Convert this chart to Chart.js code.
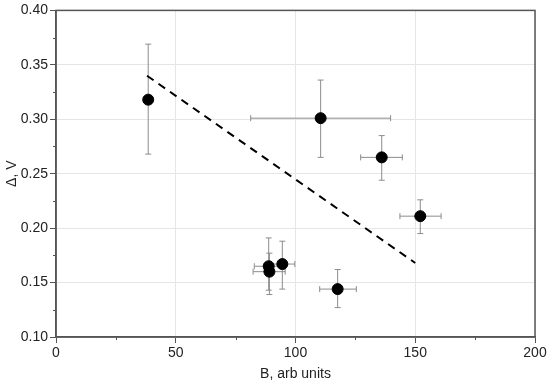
<!DOCTYPE html>
<html>
<head>
<meta charset="utf-8">
<script src="https://cdn.jsdelivr.net/npm/chart.js@4"></script>
<style>
  html, body { margin: 0; padding: 0; background: #fff; }
  #wrap { width: 550px; height: 387px; }
</style>
</head>
<body>
<div id="wrap"><canvas id="chartDelta"></canvas></div>
<script>
// measured points
const bVals   = [38.5, 110.5, 136.0, 152.1, 88.8, 89.1, 94.5, 117.6];
const dVals   = [0.318, 0.301, 0.265, 0.211, 0.165, 0.160, 0.167, 0.144];
// error bar ends
const bLow    = [38.5, 81.3, 127.2, 143.6, 82.8, 82.3, 89.5, 110.1];
const bHigh   = [38.5, 139.7, 144.6, 160.8, 95.0, 95.7, 99.7, 125.4];
const dLow    = [0.268, 0.265, 0.244, 0.195, 0.143, 0.139, 0.144, 0.127];
const dHigh   = [0.369, 0.336, 0.285, 0.226, 0.191, 0.177, 0.188, 0.162];
// linear fit
const fitB    = [38, 150];
const fitD    = [0.340, 0.168];

const xTicks  = [0, 50, 100, 150, 200];
const yTicks  = [0.10, 0.15, 0.20, 0.25, 0.30, 0.35, 0.40];

document.addEventListener("DOMContentLoaded", function () {
    const ctx = document.getElementById("chartDelta").getContext("2d");
    const font = { family: 'Liberation Sans, Arial', size: 14 };

    const errorBars = {
        id: 'errorBars',
        beforeDatasetsDraw(chart) {
            const x = chart.scales.x, y = chart.scales.y, c = chart.ctx;
            c.save();
            c.strokeStyle = '#8c8c8c';
            c.lineWidth = 1;
            const cap = 3;
            for (let i = 0; i < bVals.length; i++) {
                const px = x.getPixelForValue(bVals[i]);
                const py = y.getPixelForValue(dVals[i]);
                const y1 = y.getPixelForValue(dLow[i]), y2 = y.getPixelForValue(dHigh[i]);
                c.beginPath();
                c.moveTo(px, y1); c.lineTo(px, y2);
                c.moveTo(px - cap, y1); c.lineTo(px + cap, y1);
                c.moveTo(px - cap, y2); c.lineTo(px + cap, y2);
                if (bHigh[i] > bLow[i]) {
                    const x1 = x.getPixelForValue(bLow[i]), x2 = x.getPixelForValue(bHigh[i]);
                    c.moveTo(x1, py); c.lineTo(x2, py);
                    c.moveTo(x1, py - cap); c.lineTo(x1, py + cap);
                    c.moveTo(x2, py - cap); c.lineTo(x2, py + cap);
                }
                c.stroke();
            }
            c.restore();
        },
        afterDraw(chart) {
            const a = chart.chartArea, x = chart.scales.x, y = chart.scales.y, c = chart.ctx;
            c.save();
            c.strokeStyle = '#555';
            c.lineWidth = 1.5;
            c.strokeRect(a.left, a.top, a.right - a.left, a.bottom - a.top);
            // minor ticks
            c.lineWidth = 1;
            c.beginPath();
            for (let v = 25; v < 200; v += 50) {
                const px = Math.round(x.getPixelForValue(v)) + 0.5;
                c.moveTo(px, a.bottom); c.lineTo(px, a.bottom + 3);
            }
            for (let v = 0.125; v < 0.4; v += 0.05) {
                const py = Math.round(y.getPixelForValue(v)) + 0.5;
                c.moveTo(a.left, py); c.lineTo(a.left - 3, py);
            }
            c.stroke();
            c.restore();
        }
    };

    new Chart(ctx, {
        type: 'scatter',
        data: {
            datasets: [{
                data: bVals.map((b, i) => ({ x: b, y: dVals[i] })),
                backgroundColor: '#000',
                borderColor: '#000',
                pointRadius: 5.5,
                pointHoverRadius: 5.5
            }, {
                type: 'line',
                data: fitB.map((b, i) => ({ x: b, y: fitD[i] })),
                borderColor: '#000',
                borderWidth: 2,
                borderDash: [8, 6],
                pointRadius: 0,
                fill: false
            }]
        },
        options: {
            responsive: true,
            maintainAspectRatio: false,
            animation: false,
            layout: { padding: { top: 10, right: 15, left: 0, bottom: 0 } },
            plugins: {
                legend: { display: false },
                tooltip: { enabled: false }
            },
            scales: {
                x: {
                    type: 'linear',
                    min: 0, max: 200,
                    afterBuildTicks: s => { s.ticks = xTicks.map(v => ({ value: v })); },
                    afterFit: s => { s.height = 50; },
                    grid: { color: '#e6e6e6', tickColor: '#555', tickLength: 6 },
                    border: { color: '#555', width: 1.5 },
                    ticks: { color: '#222', font: font, padding: 2, maxRotation: 0 },
                    title: { display: true, text: 'B, arb units', color: '#222', font: font, padding: { top: 4, bottom: 4 } }
                },
                y: {
                    min: 0.10, max: 0.40,
                    afterBuildTicks: s => { s.ticks = yTicks.map(v => ({ value: v })); },
                    afterFit: s => { s.width = 56; },
                    grid: { color: '#e6e6e6', tickColor: '#555', tickLength: 6 },
                    border: { color: '#555', width: 1.5 },
                    ticks: { color: '#222', font: font, padding: 2, callback: v => v.toFixed(2) },
                    title: { display: true, text: 'Δ, V', color: '#222', font: font, padding: { top: 4, bottom: 2 } }
                }
            }
        },
        plugins: [errorBars]
    });
});
</script>
</body>
</html>
